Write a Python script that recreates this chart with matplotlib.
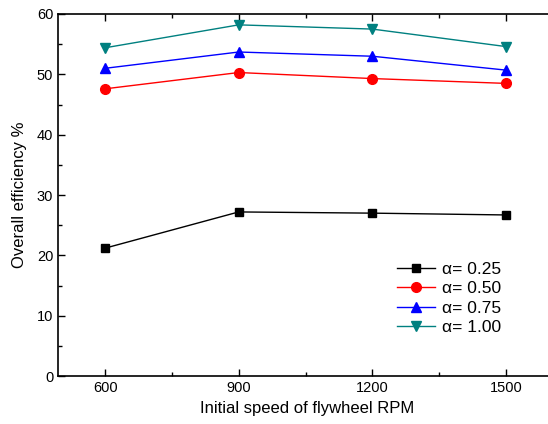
import matplotlib.pyplot as plt
from matplotlib.ticker import MultipleLocator

plt.rcParams['font.family'] = ['Liberation Sans', 'DejaVu Sans']

rpm = [600, 900, 1200, 1500]
eff_025 = [21.2, 27.2, 27.0, 26.7]
eff_050 = [47.6, 50.3, 49.3, 48.5]
eff_075 = [51.0, 53.7, 53.0, 50.7]
eff_100 = [54.4, 58.2, 57.5, 54.6]
labels = ["α= 0.25", "α= 0.50", "α= 0.75", "α= 1.00"]

fig = plt.figure(figsize=(5.48, 4.24), dpi=100)
ax = fig.add_axes([0.106, 0.113, 0.91, 0.854])

ax.plot(rpm, eff_025, color='black', marker='s', ms=6, lw=1, label=labels[0])
ax.plot(rpm, eff_050, color='red', marker='o', ms=7, lw=1, label=labels[1])
ax.plot(rpm, eff_075, color='blue', marker='^', ms=7, lw=1, label=labels[2])
ax.plot(rpm, eff_100, color='#008080', marker='v', ms=7, lw=1, label=labels[3])

ax.set_xlim(494.5, 1614)
ax.set_ylim(0, 60)
ax.set_xticks(rpm)
ax.xaxis.set_minor_locator(MultipleLocator(150))
ax.yaxis.set_major_locator(MultipleLocator(10))
ax.yaxis.set_minor_locator(MultipleLocator(5))
# original is cut off on the right, so no right spine/ticks
ax.tick_params(which='both', direction='in', top=True, right=False, labelsize=10.5, width=1)
ax.tick_params(which='major', length=5)
ax.tick_params(which='minor', length=3)
for s in ax.spines.values():
    s.set_linewidth(1.2)
ax.spines['right'].set_visible(False)

ax.set_xlabel("Initial speed of flywheel RPM", fontsize=12, labelpad=4)
ax.set_ylabel("Overall efficiency %", fontsize=12, labelpad=7)

ax.legend(loc='lower right', bbox_to_anchor=(0.92, 0.07), frameon=False, fontsize=12.5,
          handlelength=2.2, handletextpad=0.4, labelspacing=0.25)

fig.savefig("out.png", dpi=100)
